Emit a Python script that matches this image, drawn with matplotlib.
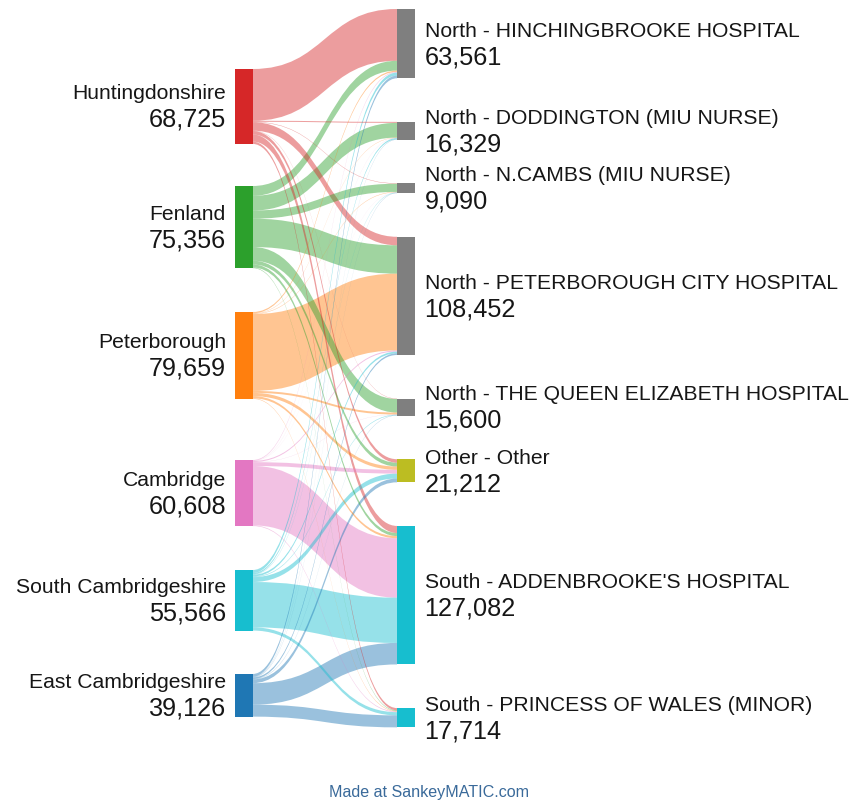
import matplotlib
matplotlib.use("Agg")
import matplotlib.pyplot as plt
from matplotlib.path import Path
from matplotlib.patches import PathPatch, Rectangle

plt.rcParams['font.family'] = ['Liberation Sans', 'DejaVu Sans']

# Source districts and destination sites
sources = ["Huntingdonshire", "Fenland", "Peterborough", "Cambridge",
           "South Cambridgeshire", "East Cambridgeshire"]
targets = ["North - HINCHINGBROOKE HOSPITAL", "North - DODDINGTON (MIU NURSE)",
           "North - N.CAMBS (MIU NURSE)", "North - PETERBOROUGH CITY HOSPITAL",
           "North - THE QUEEN ELIZABETH HOSPITAL", "Other - Other",
           "South - ADDENBROOKE'S HOSPITAL", "South - PRINCESS OF WALES (MINOR)"]

# flows from each source to each target (estimated from the diagram)
huntingdonshire = [47500, 900, 400, 7800, 300, 3200, 6500, 2125]
fenland = [9000, 13500, 7500, 26000, 12500, 3500, 2800, 556]
peterborough = [1200, 300, 400, 70500, 1800, 3000, 2000, 459]
cambridge = [600, 150, 100, 1000, 150, 3500, 54500, 608]
south_cambs = [2761, 1179, 390, 1652, 550, 4500, 41568, 2966]
east_cambs = [2500, 300, 300, 1500, 300, 3512, 19714, 11000]
flows = [huntingdonshire, fenland, peterborough, cambridge, south_cambs, east_cambs]

# colours
src_colors = ["#d62728", "#2ca02c", "#ff7f0e", "#e377c2", "#17becf", "#1f77b4"]
tgt_colors = ["#7f7f7f"] * 5 + ["#bcbd22", "#17becf", "#17becf"]

# layout (pixels)
k = 0.00109          # px per attendance
node_w = 17.6
x_left, x_right = 235, 397
left_tops = [70, 187, 313, 461, 571, 675]
right_top0, right_gap = 10, 43.6

src_tot = [sum(r) for r in flows]
tgt_tot = [sum(r[j] for r in flows) for j in range(len(targets))]

right_tops = []
y = right_top0
for t in tgt_tot:
    right_tops.append(y)
    y += t * k + right_gap

fig = plt.figure(figsize=(8.56, 8.04), dpi=100)
ax = fig.add_axes([0, 0, 1, 1])
ax.set_xlim(0, 856)
ax.set_ylim(804, 0)
ax.axis("off")

# link offsets: at sources ordered by target, at targets ordered by source
src_off = [[0] * len(targets) for _ in sources]
for i in range(len(sources)):
    y = left_tops[i]
    for j in range(len(targets)):
        src_off[i][j] = y
        y += flows[i][j] * k
tgt_off = [[0] * len(targets) for _ in sources]
for j in range(len(targets)):
    y = right_tops[j]
    for i in range(len(sources)):
        tgt_off[i][j] = y
        y += flows[i][j] * k

x0 = x_left + node_w
x1 = x_right
xm = (x0 + x1) / 2
links = [(flows[i][j], i, j) for i in range(len(sources)) for j in range(len(targets))]
links.sort(reverse=True)
for v, i, j in links:
    if v <= 0:
        continue
    h = v * k
    a, b = src_off[i][j], tgt_off[i][j]
    verts = [(x0, a), (xm, a), (xm, b), (x1, b),
             (x1, b + h), (xm, b + h), (xm, a + h), (x0, a + h), (x0, a)]
    codes = [Path.MOVETO, Path.CURVE4, Path.CURVE4, Path.CURVE4,
             Path.LINETO, Path.CURVE4, Path.CURVE4, Path.CURVE4, Path.CLOSEPOLY]
    ax.add_patch(PathPatch(Path(verts, codes), facecolor=src_colors[i],
                           edgecolor="none", alpha=0.45, zorder=1))

name_fs, value_fs = 15.2, 18.2

# nodes and labels
for i, name in enumerate(sources):
    h = src_tot[i] * k
    ax.add_patch(Rectangle((x_left, left_tops[i]), node_w, h,
                           facecolor=src_colors[i], edgecolor="none", zorder=2))
    c = left_tops[i] + h / 2
    ax.text(x_left - 9, c - 8, name, ha="right", va="baseline",
            fontsize=name_fs, color="#161616")
    ax.text(x_left - 9, c + 19.5, f"{src_tot[i]:,}", ha="right", va="baseline",
            fontsize=value_fs, color="#161616")

for j, name in enumerate(targets):
    h = tgt_tot[j] * k
    ax.add_patch(Rectangle((x_right, right_tops[j]), node_w, h,
                           facecolor=tgt_colors[j], edgecolor="none", zorder=2))
    c = right_tops[j] + h / 2
    ax.text(x_right + node_w + 10, c - 8, name, ha="left", va="baseline",
            fontsize=name_fs, color="#161616")
    ax.text(x_right + node_w + 10, c + 19.5, f"{tgt_tot[j]:,}", ha="left",
            va="baseline", fontsize=value_fs, color="#161616")

ax.text(429, 797, "Made at SankeyMATIC.com", ha="center", va="baseline",
        fontsize=11.6, color="#3a6a9a")

fig.savefig("out.png", dpi=100)
